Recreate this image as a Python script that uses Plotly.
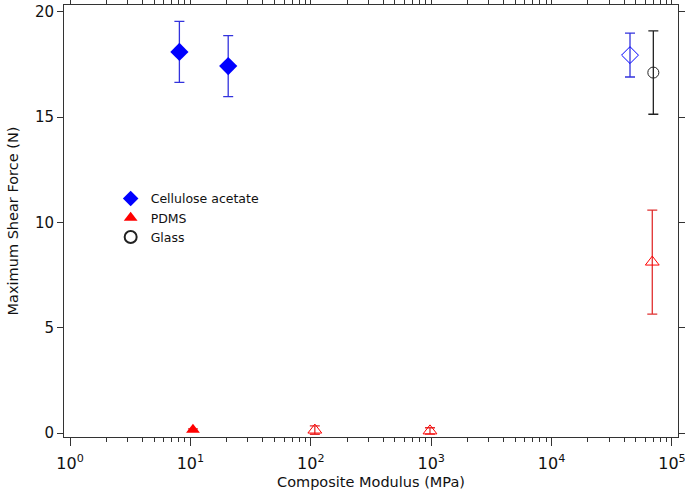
import plotly.graph_objects as go

# Cellulose acetate (filled diamonds)
ca_x = [8.1, 20.6]
ca_y = [18.1, 17.43]
ca_err = [1.45, 1.45]
# Cellulose acetate (open diamond)
cao_x = [44800]
cao_y = [17.95]
cao_err = [1.04]

# PDMS (filled triangle)
pdms_x = [10.5]
pdms_y = [0.15]
pdms_err = [0.05]
# PDMS (open triangles)
pdmso_x = [108, 977, 68600]
pdmso_y = [0.14, 0.1, 8.12]
pdmso_err = [0.2, 0.15, 2.47]

# Glass (open circle)
glass_x = [70000]
glass_y = [17.12]
glass_err = [1.98]

BLUE = "#0000ff"
BLUE_ERR = "#3333dd"
RED = "#ff0000"
RED_ERR = "#e03030"
BLACK = "#222222"

fig = go.Figure()

def err(vals, color):
    return dict(type="data", array=vals, visible=True, color=color, thickness=1.3, width=5)

fig.add_trace(go.Scatter(x=ca_x, y=ca_y, mode="markers", name="Cellulose acetate",
                         marker=dict(symbol="diamond", size=14, color=BLUE),
                         error_y=err(ca_err, BLUE_ERR)))
fig.add_trace(go.Scatter(x=pdms_x, y=pdms_y, mode="markers", name="PDMS",
                         marker=dict(symbol="triangle-up", size=12, color=RED),
                         error_y=err(pdms_err, RED_ERR)))
fig.add_trace(go.Scatter(x=glass_x, y=glass_y, mode="markers", name="Glass",
                         marker=dict(symbol="circle-open", size=11, color=BLACK, line=dict(width=1)),
                         error_y=err(glass_err, BLACK)))
fig.add_trace(go.Scatter(x=cao_x, y=cao_y, mode="markers", showlegend=False,
                         marker=dict(symbol="diamond-open", size=13, color=BLUE, line=dict(width=1)),
                         error_y=err(cao_err, BLUE_ERR)))
fig.add_trace(go.Scatter(x=pdmso_x, y=pdmso_y, mode="markers", showlegend=False,
                         marker=dict(symbol="triangle-up-open", size=12, color=RED, line=dict(width=1)),
                         error_y=err(pdmso_err, RED_ERR)))

major = [1, 10, 100, 1000, 10000, 100000]
major_text = ["10<sup>0</sup>", "10<sup>1</sup>", "10<sup>2</sup>", "10<sup>3</sup>",
              "10<sup>4</sup>", "10<sup>5</sup>"]
minor_vals = [m * 10 ** e for e in range(0, 5) for m in range(2, 10)]

FONT = "DejaVu Sans"
fig.update_layout(
    width=685, height=494,
    margin=dict(l=64, r=7, t=5, b=57),
    paper_bgcolor="white", plot_bgcolor="white",
    font=dict(family=FONT, color="#111111"),
    showlegend=True,
    legend=dict(x=0.076, y=0.586, xanchor="left", yanchor="top",
                bgcolor="rgba(0,0,0,0)", font=dict(size=12.5, family=FONT),
                tracegroupgap=0, itemsizing="constant"),
    xaxis=dict(type="log", range=[-0.05, 5.05], automargin=False,
               tickvals=major, ticktext=major_text,
               ticks="outside", ticklen=8, tickwidth=1, tickcolor="#333",
               ticklabeloverflow="allow", ticklabelstandoff=4,
               minor=dict(tickvals=minor_vals, ticks="outside", ticklen=4, tickcolor="#333"),
               showline=True, linecolor="#333", linewidth=1, mirror="ticks",
               showgrid=False, zeroline=False,
               tickfont=dict(size=16),
               title=dict(text="Composite Modulus (MPa)", font=dict(size=14.5), standoff=4)),
    yaxis=dict(range=[-0.19, 20.33], automargin=False,
               tickvals=[0, 5, 10, 15, 20],
               ticks="outside", ticklen=6, tickwidth=1, tickcolor="#333",
               showline=True, linecolor="#333", linewidth=1, mirror="ticks",
               showgrid=False, zeroline=False,
               tickfont=dict(size=15),
               title=dict(text="Maximum Shear Force (N)", font=dict(size=14.5), standoff=12)),
)

fig.write_html("out.html", config={"displayModeBar": False},
               post_script="document.body.style.margin='0px';document.body.style.overflow='hidden';")
